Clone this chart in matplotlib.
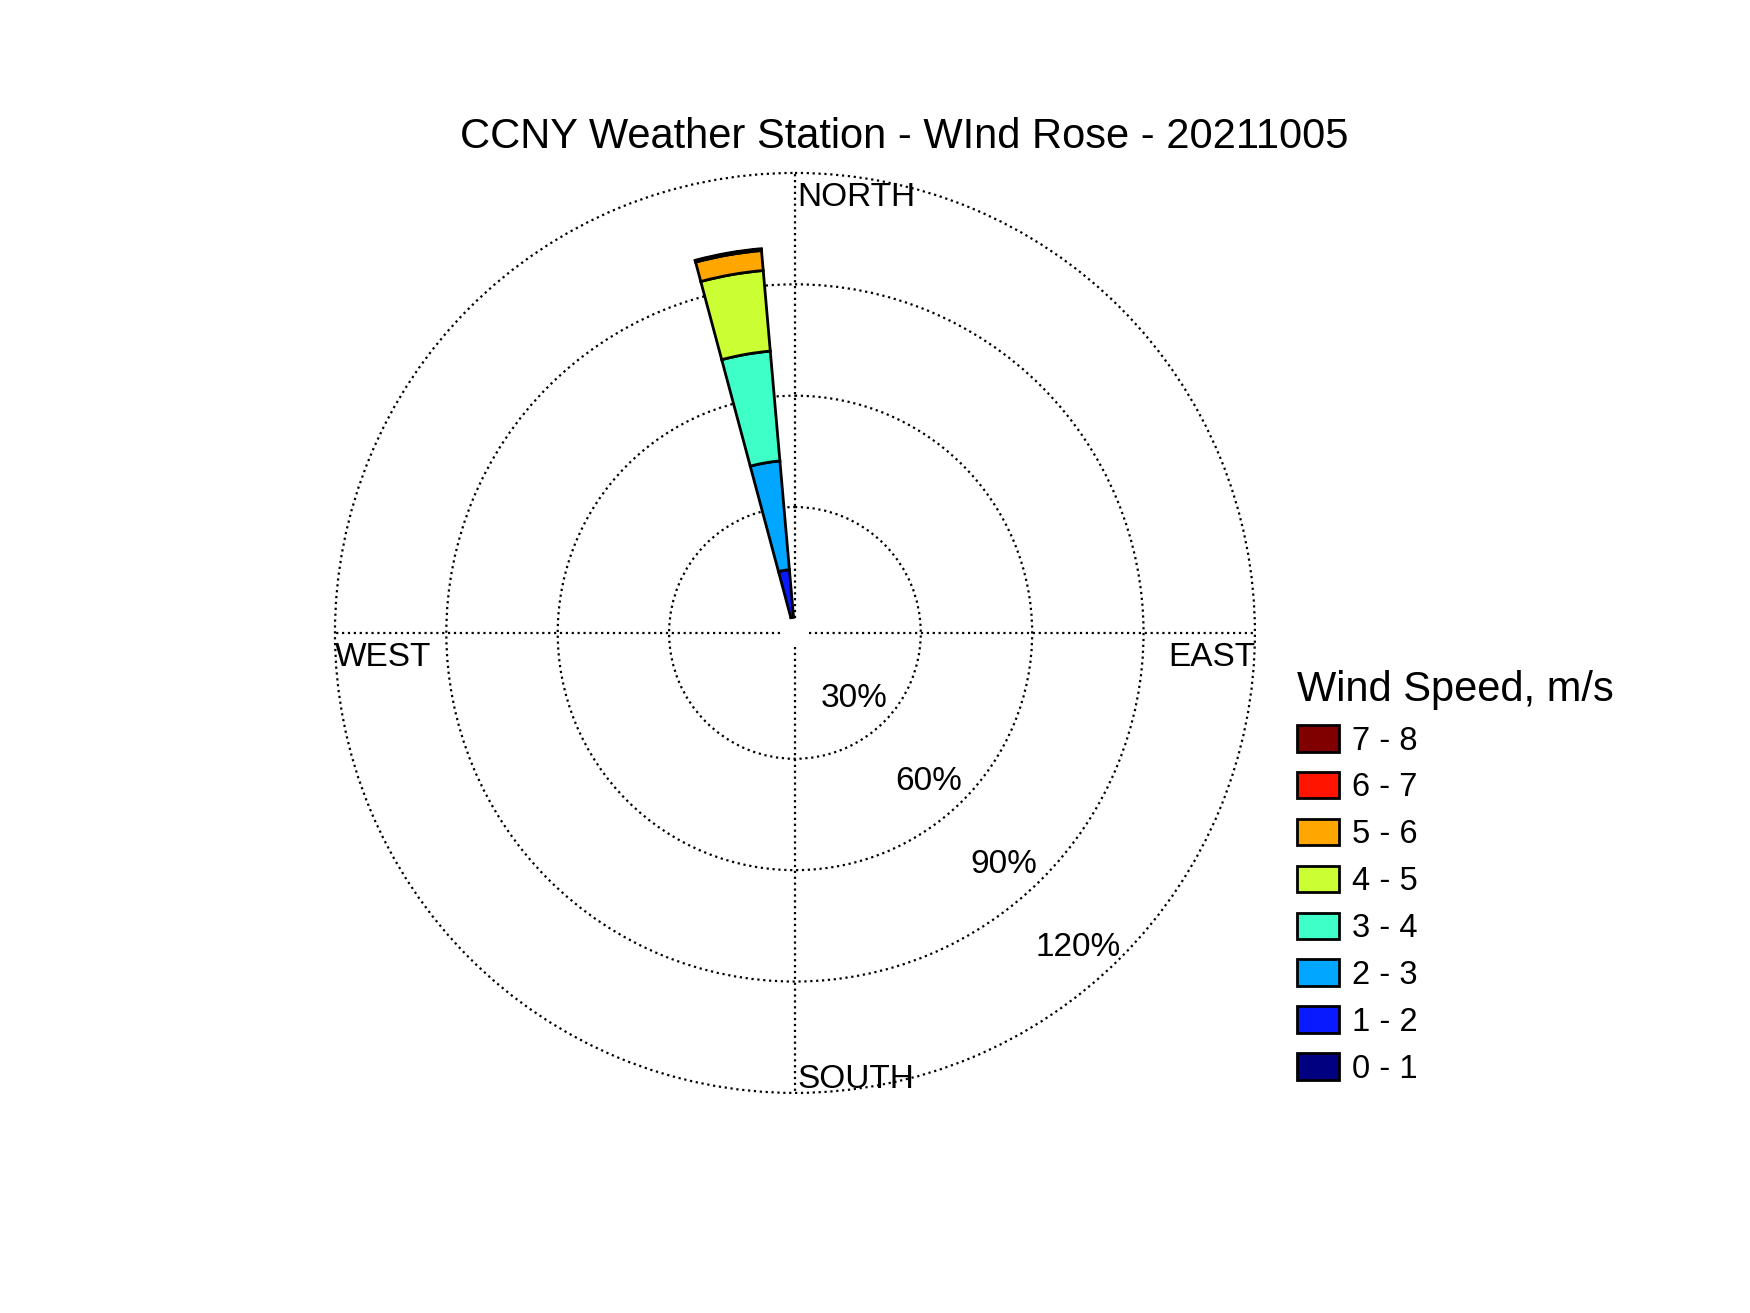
import numpy as np
import matplotlib
matplotlib.use('Agg')
import matplotlib.pyplot as plt
from matplotlib.patches import Patch

plt.rcParams['font.family'] = ['Liberation Sans', 'DejaVu Sans']

# wind data for the day, all from one direction bin
speed_bins = ['0 - 1', '1 - 2', '2 - 3', '3 - 4', '4 - 5', '5 - 6', '6 - 7', '7 - 8']
direction_deg = 350
bin_width_deg = 10
freq_pct = [0.2, 13.0, 29.4, 29.7, 21.8, 5.4, 0.3, 0.2]

ring_values = [30, 60, 90, 120]
ring_labels = ['30%', '60%', '90%', '120%']
compass_deg = [0, 90, 180, 270]
compass_names = ['NORTH', 'EAST', 'SOUTH', 'WEST']

title = 'CCNY Weather Station - WInd Rose - 20211005'

# jet-like colours, slow to fast
colors = [(0.0, 0.0, 0.5), (0.04, 0.1, 1.0), (0.0, 0.65, 1.0), (0.24, 1.0, 0.78),
          (0.8, 1.0, 0.2), (1.0, 0.65, 0.0), (1.0, 0.08, 0.0), (0.5, 0.0, 0.0)]

fig = plt.figure(figsize=(17.5, 13.13), dpi=100, facecolor='white')
ax = fig.add_axes([0.1914, 0.1676, 0.5257, 0.7007], projection='polar')
ax.set_theta_zero_location('N')
ax.set_theta_direction(-1)
ax.set_rorigin(-3.9)
ax.set_ylim(0, 120)

# stacked sector
bottoms = np.concatenate([[0], np.cumsum(freq_pct)[:-1]])
ax.bar(np.deg2rad(direction_deg), freq_pct, width=np.deg2rad(bin_width_deg),
       bottom=bottoms, color=colors, edgecolor='black', linewidth=2.0, zorder=3)

# grid
ax.set_rticks(ring_values)
ax.set_yticklabels([])
ax.set_xticks(np.deg2rad(compass_deg))
ax.set_xticklabels([])
ax.grid(True, color='black', linestyle=':', linewidth=1.6)
for gl in ax.yaxis.get_gridlines() + ax.xaxis.get_gridlines():
    gl.set_clip_on(False)
# polar axes re-enables the inner spine when drawing, so just make it invisible
for sp in ax.spines.values():
    sp.set_linewidth(0)
    sp.set_edgecolor('none')
ax.tick_params(length=0)

# compass labels: (alignment, offset in points)
label_pos = {
    'NORTH': ('left', 'top', (1.5, -6.4)),
    'EAST': ('right', 'top', (0, -6.4)),
    'SOUTH': ('left', 'bottom', (1.5, -1.2)),
    'WEST': ('left', 'top', (0, -6.4)),
}
for deg, name in zip(compass_deg, compass_names):
    ha, va, off = label_pos[name]
    ax.annotate(name, xy=(np.deg2rad(deg), 120), xytext=off, textcoords='offset points',
                ha=ha, va=va, fontsize=24, annotation_clip=False)

# ring labels
for v, lab in zip(ring_values, ring_labels):
    ax.text(np.deg2rad(138), v - 10, lab, ha='center', va='center', fontsize=24)

fig.text(0.517, 0.8957, title, ha='center', va='center', fontsize=30)

handles = [Patch(facecolor=c, edgecolor='black', linewidth=2) for c in colors][::-1]
leg = fig.legend(handles, speed_bins[::-1], loc='upper left', bbox_to_anchor=(0.741, 0.49),
                 frameon=False, title='Wind Speed, m/s', title_fontsize=30, fontsize=23.5,
                 alignment='left', handlelength=1.3, handleheight=0.875,
                 handletextpad=0.38, labelspacing=0.47, borderpad=0, borderaxespad=0)

fig.savefig('out.png', dpi=100)
